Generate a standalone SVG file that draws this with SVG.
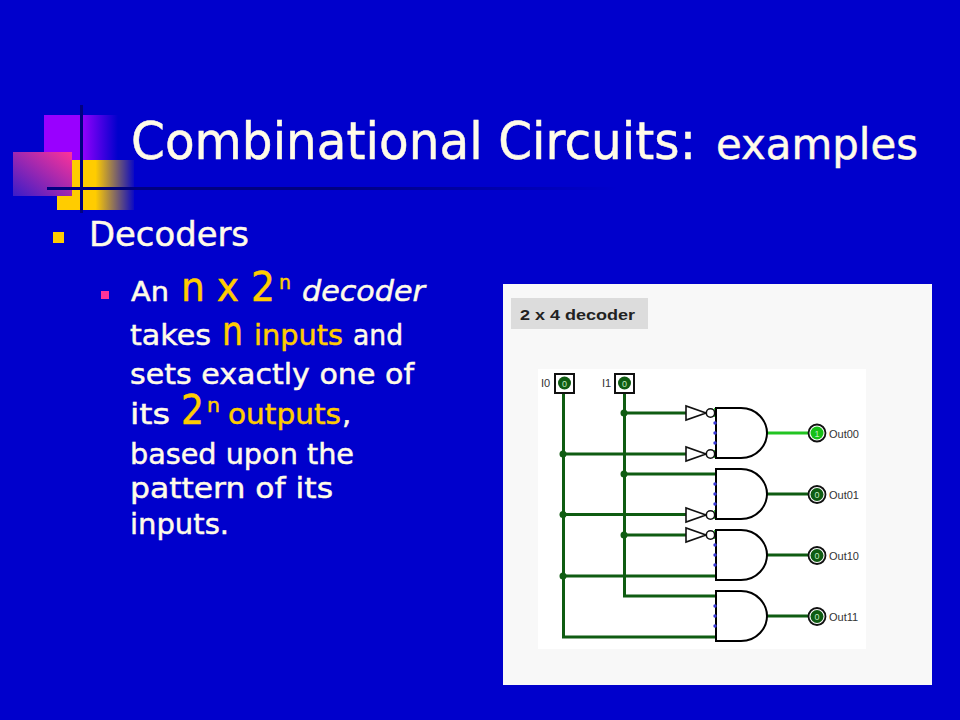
<svg xmlns="http://www.w3.org/2000/svg" width="960" height="720" viewBox="0 0 960 720">
<style>
text{font-family:"DejaVu Sans","Liberation Sans",sans-serif}
.w{fill:#fffbe8;stroke:#fffbe8;stroke-width:.5}.y{fill:#ffcc00;stroke:#ffcc00;stroke-width:.5}
.wire{fill:none;stroke:#0f5c12;stroke-width:3}
.dot{fill:#0f5c12}
.gate{fill:#fff;stroke:#000;stroke-width:2}
.inv{fill:#fff;stroke:#111;stroke-width:1.6}
.pin{fill:#3a3ad8}
.lbl{font-family:"Liberation Sans",Arial,sans-serif;font-size:11px;fill:#333}
.val{font-family:"Liberation Sans",Arial,sans-serif;font-size:9px;fill:#bfe8bf;text-anchor:middle}
</style>
<defs>
<linearGradient id="pg" x1="0" x2="1" y1="0" y2="0"><stop offset="0.5" stop-color="#9900ff"/><stop offset="1" stop-color="#9900ff" stop-opacity="0"/></linearGradient>
<linearGradient id="yg" x1="0" x2="1" y1="0" y2="0"><stop offset="0.5" stop-color="#ffcc00"/><stop offset="1" stop-color="#ffcc00" stop-opacity="0.05"/></linearGradient>
<linearGradient id="kg" x1="1" x2="0" y1="0" y2="1"><stop offset="0" stop-color="#ff3399"/><stop offset="1" stop-color="#3a1cc8"/></linearGradient>
<linearGradient id="lg" x1="0" x2="1" y1="0" y2="0"><stop offset="0.5" stop-color="#000080"/><stop offset="1" stop-color="#000080" stop-opacity="0"/></linearGradient>
<g id="and"><path class="gate" d="M0-25H25C41-25 51-12 51 0C51 12 41 25 25 25H0Z"/><circle class="pin" cx="-1" cy="-10" r="1.700"/><circle class="pin" cx="-1" cy="0" r="1.700"/><circle class="pin" cx="-1" cy="10" r="1.700"/></g>
<g id="not"><path class="inv" d="M0-7V7L20 0Z"/><circle class="inv" cx="24.500" cy="0" r="4.200"/></g>
</defs>
<rect width="960" height="720" fill="#0000cc"/>
<g id="decor">
<rect x="44" y="115" width="74" height="45" fill="url(#pg)"/>
<rect x="57" y="160" width="77" height="50" fill="url(#yg)"/>
<rect x="13" y="152" width="59" height="44" fill="url(#kg)"/>
<rect x="80" y="105" width="3" height="108" fill="#000080"/>
<rect x="47" y="187" width="570" height="3" fill="url(#lg)"/>
</g>
<g id="slide-text">
<text class="w" x="131" y="159" font-size="51" textLength="565" lengthAdjust="spacingAndGlyphs">Combinational Circuits:</text>
<text class="w" x="716" y="159" font-size="43" textLength="202" lengthAdjust="spacingAndGlyphs">examples</text>
<rect x="53" y="232" width="11" height="11" class="y" style="stroke:none"/>
<text class="w" x="89" y="246" font-size="34" textLength="160" lengthAdjust="spacingAndGlyphs">Decoders</text>
<rect x="101" y="291" width="8" height="8" fill="#ff3399"/>
<text class="w" x="131" y="301" font-size="27" textLength="38" lengthAdjust="spacingAndGlyphs">An</text>
<text class="y" x="181" y="301" font-size="40" textLength="94" lengthAdjust="spacingAndGlyphs">n x 2</text>
<text class="y" x="279" y="289" font-size="20" textLength="12" lengthAdjust="spacingAndGlyphs">n</text>
<text class="w" x="302" y="301" font-size="29" font-style="italic" textLength="123" lengthAdjust="spacingAndGlyphs">decoder</text>
<text class="w" x="130" y="345" font-size="29" textLength="81" lengthAdjust="spacingAndGlyphs">takes</text>
<text class="y" x="222" y="345" font-size="40" textLength="21" lengthAdjust="spacingAndGlyphs">n</text>
<text class="y" x="254" y="345" font-size="29" textLength="89" lengthAdjust="spacingAndGlyphs">inputs</text>
<text class="w" x="353" y="345" font-size="29" textLength="50" lengthAdjust="spacingAndGlyphs">and</text>
<text class="w" x="130" y="384" font-size="29" textLength="284" lengthAdjust="spacingAndGlyphs">sets exactly one of</text>
<text class="w" x="130" y="424" font-size="29" textLength="40" lengthAdjust="spacingAndGlyphs">its</text>
<text class="y" x="181" y="424" font-size="40" textLength="23" lengthAdjust="spacingAndGlyphs">2</text>
<text class="y" x="207" y="412" font-size="20" textLength="13" lengthAdjust="spacingAndGlyphs">n</text>
<text class="y" x="228" y="424" font-size="29" textLength="113" lengthAdjust="spacingAndGlyphs">outputs</text>
<text class="w" x="342" y="424" font-size="29">,</text>
<text class="w" x="130" y="464" font-size="29" textLength="224" lengthAdjust="spacingAndGlyphs">based upon the</text>
<text class="w" x="130" y="498" font-size="29" textLength="203" lengthAdjust="spacingAndGlyphs">pattern of its</text>
<text class="w" x="130" y="534" font-size="29" textLength="99" lengthAdjust="spacingAndGlyphs">inputs.</text>
</g>
<g id="panel">
<rect x="503" y="284" width="429" height="401" fill="#f8f8f8"/>
<rect x="511" y="298" width="137" height="31" fill="#dcdcdc"/>
<text x="520" y="320" font-size="15.500" font-weight="700" fill="#222" style="font-family:'Liberation Sans',Arial,sans-serif" textLength="115" lengthAdjust="spacingAndGlyphs">2 x 4 decoder</text>
<rect x="538" y="369" width="328" height="280" fill="#fff"/>
</g>
<g id="connectors">
<path class="wire" d="M563.500 393V637H716M624.500 393V596H716M624.500 413H686M563.500 454H686M624.500 474H716M563.500 514.500H686M624.500 535H686M563.500 576H716M767 494H808M767 555H808M767 616H808"/>
<path d="M767 433H808" fill="none" stroke="#22c422" stroke-width="3"/>
<path d="M715 408V417M715 450V458M715 510V519M715 530V539" stroke="#3ccf3c" stroke-width="2" fill="none"/>
<circle class="dot" cx="624" cy="413" r="3.500"/><circle class="dot" cx="563" cy="454" r="3.500"/><circle class="dot" cx="624" cy="474" r="3.500"/><circle class="dot" cx="563" cy="514.500" r="3.500"/><circle class="dot" cx="624" cy="535" r="3.500"/><circle class="dot" cx="563" cy="576" r="3.500"/>
</g>
<g id="I0"><rect x="555" y="374" width="19" height="19" fill="#fff" stroke="#111" stroke-width="2"/><circle class="dot" cx="564.500" cy="383" r="6.500"/><text class="val" x="564.500" y="386.500">0</text><text class="lbl" x="541" y="387">I0</text></g>
<g id="I1"><rect x="615" y="374" width="19" height="19" fill="#fff" stroke="#111" stroke-width="2"/><circle class="dot" cx="624.500" cy="383" r="6.500"/><text class="val" x="624.500" y="386.500">0</text><text class="lbl" x="602" y="387">I1</text></g>
<g id="not0"><use href="#not" x="686" y="413"/></g>
<g id="not1"><use href="#not" x="686" y="454"/></g>
<g id="not2"><use href="#not" x="686" y="515"/></g>
<g id="not3"><use href="#not" x="686" y="535"/></g>
<g id="and0"><use href="#and" x="716" y="433"/></g>
<g id="and1"><use href="#and" x="716" y="494"/></g>
<g id="and2"><use href="#and" x="716" y="555"/></g>
<g id="and3"><use href="#and" x="716" y="616"/></g>
<g id="Out00"><circle cx="817" cy="433" r="8.500" fill="#fff" stroke="#111" stroke-width="1.800"/><circle cx="817" cy="433" r="6.500" fill="#16c016"/><text class="val" x="817" y="436.500">1</text><text class="lbl" x="829" y="438">Out00</text></g>
<g id="Out01"><circle cx="817" cy="494.500" r="8.500" fill="#fff" stroke="#111" stroke-width="1.800"/><circle class="dot" cx="817" cy="494.500" r="6.500"/><text class="val" x="817" y="498">0</text><text class="lbl" x="829" y="499">Out01</text></g>
<g id="Out10"><circle cx="817" cy="555.500" r="8.500" fill="#fff" stroke="#111" stroke-width="1.800"/><circle class="dot" cx="817" cy="555.500" r="6.500"/><text class="val" x="817" y="559">0</text><text class="lbl" x="829" y="560">Out10</text></g>
<g id="Out11"><circle cx="817" cy="616.500" r="8.500" fill="#fff" stroke="#111" stroke-width="1.800"/><circle class="dot" cx="817" cy="616.500" r="6.500"/><text class="val" x="817" y="620">0</text><text class="lbl" x="829" y="621">Out11</text></g>
</svg>
